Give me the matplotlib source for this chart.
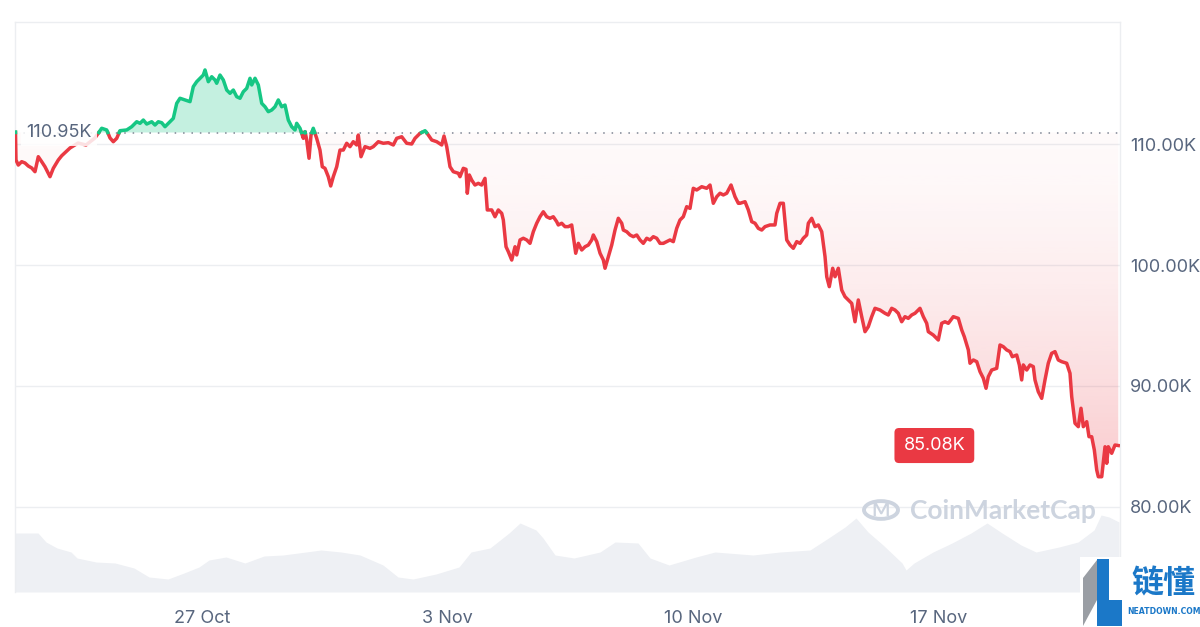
import numpy as np
import matplotlib
matplotlib.use("Agg")
import matplotlib.pyplot as plt
import matplotlib.dates as mdates
from matplotlib.path import Path
from matplotlib.patches import Rectangle, Polygon, Circle
from datetime import datetime

# days since 21 Oct 2025 00:00 and BTC price (thousands USD)
price_days = [0.682, 0.696, 0.762, 0.859, 0.953, 1.047, 1.144, 1.238, 1.332, 1.429, 1.523, 1.666, 1.760, 1.903, 2.000,
              2.236, 2.465, 2.693, 2.949, 3.140, 3.283, 3.377, 3.471, 3.568, 3.662, 3.853, 3.996, 4.138, 4.233, 4.327,
              4.423, 4.566, 4.660, 4.754, 4.851, 4.945, 5.088, 5.182, 5.279, 5.373, 5.515, 5.658, 5.752, 5.849, 5.943,
              6.037, 6.086, 6.180, 6.277, 6.371, 6.419, 6.513, 6.608, 6.705, 6.799, 6.893, 6.990, 7.084, 7.178, 7.275,
              7.369, 7.418, 7.512, 7.606, 7.703, 7.797, 7.891, 7.988, 8.082, 8.176, 8.273, 8.367, 8.461, 8.558, 8.652,
              8.700, 8.795, 8.889, 8.938, 8.986, 9.052, 9.109, 9.173, 9.270, 9.364, 9.430, 9.507, 9.601, 9.670, 9.744,
              9.841, 9.935, 10.029, 10.126, 10.220, 10.314, 10.411, 10.457, 10.534, 10.648, 10.791, 10.885, 11.028,
              11.170, 11.313, 11.455, 11.552, 11.695, 11.837, 11.980, 12.074, 12.217, 12.360, 12.454, 12.551, 12.693,
              12.836, 12.901, 12.978, 13.072, 13.166, 13.309, 13.357, 13.451, 13.528, 13.565, 13.622, 13.690, 13.784,
              13.878, 13.975, 14.069, 14.135, 14.261, 14.355, 14.449, 14.546, 14.592, 14.669, 14.735, 14.832, 14.926,
              14.974, 15.068, 15.162, 15.259, 15.353, 15.447, 15.544, 15.638, 15.732, 15.829, 15.923, 16.017, 16.114,
              16.160, 16.257, 16.351, 16.445, 16.542, 16.588, 16.656, 16.731, 16.828, 16.922, 17.016, 17.113, 17.159,
              17.256, 17.350, 17.444, 17.492, 17.586, 17.683, 17.777, 17.871, 17.968, 18.014, 18.111, 18.205, 18.299,
              18.396, 18.490, 18.584, 18.681, 18.775, 18.869, 18.966, 19.060, 19.154, 19.251, 19.345, 19.439, 19.536,
              19.630, 19.724, 19.821, 19.915, 20.009, 20.106, 20.249, 20.391, 20.486, 20.580, 20.677, 20.771, 20.865,
              20.962, 21.085, 21.199, 21.293, 21.341, 21.484, 21.578, 21.675, 21.769, 21.863, 21.960, 22.054, 22.197,
              22.339, 22.388, 22.482, 22.576, 22.673, 22.767, 22.861, 22.958, 23.052, 23.146, 23.243, 23.289, 23.386,
              23.480, 23.574, 23.671, 23.765, 23.814, 23.887, 23.984, 24.050, 24.144, 24.241, 24.335, 24.429, 24.526,
              24.620, 24.714, 24.811, 24.905, 24.999, 25.096, 25.190, 25.333, 25.475, 25.569, 25.666, 25.760, 25.854,
              25.951, 26.045, 26.139, 26.237, 26.331, 26.473, 26.568, 26.664, 26.710, 26.853, 26.995, 27.092, 27.186,
              27.281, 27.423, 27.566, 27.663, 27.737, 27.851, 27.899, 27.994, 28.091, 28.185, 28.279, 28.356, 28.421,
              28.518, 28.660, 28.754, 28.848, 28.945, 29.039, 29.105, 29.230, 29.305, 29.373, 29.419, 29.516, 29.610,
              29.704, 29.752, 29.846, 29.943, 30.037, 30.131, 30.228, 30.322, 30.416, 30.513, 30.656, 30.750, 30.799,
              30.893, 30.987, 31.064, 31.130, 31.227, 31.292, 31.369, 31.444, 31.512, 31.558, 31.655, 31.749, 31.798,
              31.842, 31.939, 32.033, 32.127]
price_k = [110.99, 108.68, 108.26, 108.54, 108.43, 108.18, 108.02, 107.71, 108.95, 108.54, 108.12, 107.30, 107.99, 108.68, 109.03,
           109.67, 110.08, 109.92, 110.50, 111.30, 111.16, 110.50, 110.19, 110.47, 111.10, 111.16, 111.43, 111.84, 111.71, 111.98,
           111.65, 111.84, 111.57, 111.84, 111.76, 111.43, 111.84, 112.12, 113.36, 113.78, 113.64, 113.50, 114.74, 115.15, 115.43,
           115.70, 116.12, 115.15, 115.56, 115.29, 115.02, 115.70, 115.29, 114.46, 114.19, 114.46, 113.91, 113.78, 114.32, 114.60,
           115.43, 114.88, 115.43, 114.88, 113.36, 113.08, 112.67, 112.81, 113.08, 113.64, 113.08, 113.22, 111.98, 111.43, 111.16,
           111.71, 111.30, 110.47, 111.02, 110.33, 108.82, 110.74, 111.30, 110.47, 109.50, 108.12, 107.99, 107.30, 106.53, 107.30,
           108.12, 109.50, 109.50, 110.06, 109.78, 110.19, 109.92, 110.74, 108.95, 109.78, 109.64, 109.78, 110.19,
           110.06, 110.11, 109.92, 110.47, 110.60, 110.06, 110.00, 110.47, 110.88, 111.10, 110.74, 110.33, 110.19,
           109.92, 110.66, 109.78, 108.12, 107.71, 107.58, 107.30, 107.99, 107.91, 105.93, 107.44, 107.02, 106.61,
           106.75, 106.61, 107.16, 104.55, 104.55, 103.99, 104.55, 104.27, 103.72, 101.51, 101.10, 100.41, 101.51,
           100.83, 102.07, 102.21, 102.07, 101.79, 102.75, 103.45, 103.99, 104.40, 103.99, 103.86, 103.99, 103.58,
           103.31, 103.45, 103.17, 103.17, 103.31, 102.34, 100.97, 101.79, 101.24, 101.51, 101.65, 102.07, 102.48,
           101.93, 100.97, 100.41, 99.73, 100.69, 101.65, 102.89, 103.86, 103.45, 102.89, 102.75, 102.48, 102.34,
           102.48, 102.07, 101.79, 102.21, 102.07, 102.34, 102.21, 101.79, 101.79, 101.93, 102.07, 101.93, 103.03,
           103.72, 103.99, 104.82, 104.68, 106.34, 106.20, 106.47, 106.34, 106.61, 105.10, 105.64, 105.93, 105.79,
           105.93, 106.61, 105.64, 105.10, 105.10, 105.23, 104.55, 103.58, 103.45, 103.03, 102.89, 103.17, 103.31,
           103.31, 104.27, 105.10, 105.10, 102.07, 101.65, 101.38, 101.93, 101.79, 102.21, 102.48, 103.45, 103.86,
           103.17, 103.31, 102.75, 100.69, 99.03, 98.21, 99.73, 99.03, 99.73, 97.93, 97.38, 97.11, 96.83,
           95.31, 97.11, 95.73, 94.49, 94.90, 95.73, 96.42, 96.28, 96.01, 95.87, 96.42, 96.28, 96.01,
           95.31, 95.73, 95.59, 95.87, 96.01, 96.42, 95.73, 95.18, 94.49, 94.21, 93.80, 95.18, 95.31,
           95.18, 95.73, 95.59, 94.63, 94.07, 92.98, 91.88, 92.15, 92.01, 91.18, 90.64, 89.81, 90.77,
           91.32, 91.46, 93.39, 93.25, 92.98, 92.84, 92.42, 92.56, 91.74, 90.50, 91.74, 91.32, 91.74,
           91.60, 90.50, 89.53, 88.98, 90.50, 91.88, 92.70, 92.84, 92.15, 92.01, 91.88, 91.05, 89.12,
           86.92, 86.64, 88.16, 86.64, 87.05, 85.81, 85.81, 84.71, 83.06, 82.50, 82.50, 84.98, 83.61,
           84.98, 84.44, 85.12, 85.08]

# trading volume (relative units), same day axis
vol_days = [0.677, 1.324, 1.552, 1.866, 2.265, 2.436, 2.978, 3.519, 4.061, 4.489, 5.031, 5.487, 5.915, 6.200, 6.685,
            7.226, 7.768, 8.310, 8.966, 9.393, 9.964, 10.505, 11.161, 11.589, 12.017, 12.672, 13.328, 13.671, 14.212,
            14.754, 15.068, 15.524, 15.724, 16.066, 16.608, 17.350, 17.777, 18.433, 18.775, 19.317, 20.087, 20.628,
            21.712, 22.482, 23.337, 23.908, 24.335, 24.649, 24.991, 25.419, 25.961, 26.075, 26.303, 26.845, 27.387,
            27.928, 28.385, 28.813, 29.354, 29.782, 30.438, 30.980, 31.436, 31.636, 31.864, 32.148]
volume = [59, 59, 50, 44, 40, 34, 30, 29, 24, 15, 13, 19, 25, 32, 35,
          29, 36, 37, 40, 42, 40, 37, 27, 15, 13, 18, 25, 40, 44,
          59, 69, 62, 54, 37, 34, 40, 50, 49, 34, 27, 35, 40,
          37, 40, 42, 55, 65, 74, 60, 47, 29, 22, 29, 40, 49,
          59, 69, 59, 47, 40, 45, 50, 62, 77, 75, 70]

open_price = 110.95
last_label = "85.08K"
y_ticks = [80, 90, 100, 110]
x_tick_dates = [datetime(2025, 10, 27), datetime(2025, 11, 3), datetime(2025, 11, 10), datetime(2025, 11, 17)]

RED = "#ea3943"
GREEN = "#16c784"
GRAY_TXT = "#58667e"

plt.rcParams["font.family"] = ["Inter", "DejaVu Sans"]

base = mdates.date2num(datetime(2025, 10, 21))
x = base + np.array(price_days)
p = np.array(price_k)

# add crossing points so green/red switch exactly on the open line
xs, ps = [x[0]], [p[0]]
for i in range(1, len(x)):
    a, b = p[i - 1] - open_price, p[i] - open_price
    if a * b < 0:
        f = a / (a - b)
        xs.append(x[i - 1] + f * (x[i] - x[i - 1]))
        ps.append(open_price)
    xs.append(x[i])
    ps.append(p[i])
xs, ps = np.array(xs), np.array(ps)

fig = plt.figure(figsize=(12, 6.27), dpi=100)
pos = [15 / 1200, 35 / 627, 1105 / 1200, 570 / 627]
xlim = (base + 0.668, base + 32.176)
ylim = (72.975, 120.083)

# volume underneath
axv = fig.add_axes(pos)
axv.fill_between(base + np.array(vol_days), volume, 0, color="#eef0f4", lw=0)
axv.set_xlim(xlim)
axv.set_ylim(0, 570)
axv.axis("off")

ax = fig.add_axes(pos)
ax.patch.set_visible(False)

for s in ["left", "top", "right"]:
    ax.spines[s].set_color("#eceef1")
    ax.spines[s].set_linewidth(1)
ax.spines["bottom"].set_visible(False)

ax.set_yticks(y_ticks)
ax.set_yticklabels([f"{v:.2f}K" for v in y_ticks])
ax.yaxis.tick_right()
ax.tick_params(axis="y", length=0, pad=7, labelsize=13, labelcolor=GRAY_TXT)
ax.set_xticks(mdates.date2num(x_tick_dates))
ax.xaxis.set_major_formatter(mdates.DateFormatter("%-d %b"))
ax.tick_params(axis="x", length=0, pad=13, labelsize=13, labelcolor=GRAY_TXT)
for v in y_ticks:
    ax.axhline(v, color="#eceef1", lw=1, zorder=0)

# fills
ax.fill_between(xs, ps, open_price, where=ps >= open_price, interpolate=True,
                color=GREEN, alpha=0.25, lw=0, zorder=1)
red_poly = ax.fill_between(xs, ps, open_price, where=ps <= open_price, interpolate=True,
                           color="none", lw=0)
grad = np.zeros((256, 1, 4))
t = np.linspace(0, 1, 256)  # 0 = bottom
grad[:, 0, 0] = 234 / 255
grad[:, 0, 1] = 57 / 255
grad[:, 0, 2] = 67 / 255
grad[:, 0, 3] = 0.025 + 0.25 * (1 - t) ** 1.5
im = ax.imshow(grad, extent=[xlim[0], xlim[1], 81.5, open_price], origin="lower",
               aspect="auto", zorder=1)
clip = Path.make_compound_path(*red_poly.get_paths())
im.set_clip_path(clip, transform=ax.transData)
ax.set_xlim(xlim)
ax.set_ylim(ylim)

# lines
above = np.where(ps >= open_price, ps, np.nan)
below = np.where(ps <= open_price, ps, np.nan)
ax.plot(xs, below, color=RED, lw=2.5, zorder=3, solid_joinstyle="round")
ax.plot(xs, above, color=GREEN, lw=2.5, zorder=3, solid_joinstyle="round")

ax.axhline(open_price, color="#7d8593", lw=1.1, ls=(0, (1, 4.5)), zorder=2)

# open price label
ax.text(0.010, open_price, f"{open_price:.2f}K", transform=ax.get_yaxis_transform(),
        ha="left", va="center", fontsize=13, color=GRAY_TXT, zorder=5,
        bbox=dict(boxstyle="square,pad=0.3", fc="white", ec="none", alpha=0.85))

# last price badge
ax.text(0.832, price_k[-1], last_label, transform=ax.get_yaxis_transform(),
        ha="center", va="center", fontsize=13, color="white", zorder=6,
        bbox=dict(boxstyle="round,pad=0.5,rounding_size=0.25", fc=RED, ec="none"))

# watermark
wm = "#cdd4df"
fig.patches.append(Circle((881 / 1200, 1 - 510 / 627), 17 / 1200, transform=fig.transFigure,
                          fill=False, ec=wm, lw=2.8, zorder=10))
fig.text(881 / 1200, 1 - 511 / 627, "M", ha="center", va="center", fontsize=14,
         color=wm, family="Lato", fontweight="bold")
fig.text(910 / 1200, 1 - 511 / 627, "CoinMarketCap", ha="left", va="center", fontsize=19,
         color=wm, family="Lato", fontweight="bold")


# site logo bottom-right
def fx(px):
    return px / 1200


def fy(py):
    return 1 - py / 627


fig.patches.append(Rectangle((fx(1080), fy(627)), fx(120), 70 / 627, transform=fig.transFigure,
                             fc="white", ec="none", zorder=20))
fig.patches.append(Polygon([(fx(1083), fy(578)), (fx(1097), fy(560)), (fx(1097), fy(600)),
                            (fx(1083), fy(626))], closed=True, transform=fig.transFigure,
                           fc="#9a9ea4", ec="none", zorder=21))
fig.patches.append(Rectangle((fx(1097), fy(626)), fx(12), 67 / 627, transform=fig.transFigure,
                             fc="#1b78c8", ec="none", zorder=21))
fig.patches.append(Rectangle((fx(1097), fy(626)), fx(25), 26 / 627, transform=fig.transFigure,
                             fc="#1b78c8", ec="none", zorder=21))
fig.text(fx(1163), fy(584), "链懂", ha="center", va="center", fontsize=23, color="#1b78c8",
         family=["Noto Sans CJK SC", "DejaVu Sans"], fontweight="bold", zorder=22)
fig.text(fx(1164), fy(611), "NEATDOWN.COM", ha="center", va="center", fontsize=5.6, color="#1b78c8",
         family="DejaVu Sans", fontweight="bold", zorder=22)

fig.savefig("out.png", dpi=100)
